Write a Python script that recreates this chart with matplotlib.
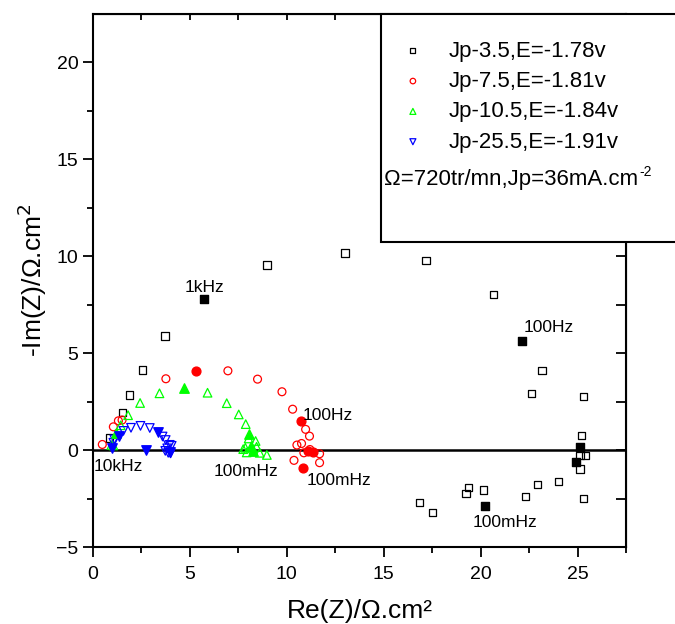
import matplotlib
matplotlib.use("Agg")
import matplotlib.pyplot as plt
from matplotlib.patches import Rectangle

plt.rcParams["font.family"] = ["Liberation Sans", "DejaVu Sans"]

# Jp-3.5, E=-1.78v (black squares)
sq_open_x = [0.84, 1.51, 1.87, 2.54, 3.71, 8.97, 13.0, 17.19, 20.68, 23.16, 22.64, 25.3,
             25.22, 25.41, 25.13, 25.13, 25.3, 24.02, 22.93, 22.3, 20.15, 19.37, 19.24,
             16.85, 17.5]
sq_open_y = [0.63, 1.94, 2.85, 4.14, 5.89, 9.55, 10.17, 9.79, 8.03, 4.12, 2.92, 2.78,
             0.74, -0.29, -0.29, -0.98, -2.49, -1.62, -1.77, -2.4, -2.06, -1.94, -2.23,
             -2.70, -3.23]
sq_full_x = [5.74, 22.12, 25.13, 24.93, 20.25]
sq_full_y = [7.78, 5.63, 0.14, -0.64, -2.89]

# Jp-7.5, E=-1.81v (red circles)
ci_open_x = [0.48, 1.05, 1.31, 1.50, 3.76, 6.96, 8.49, 9.75, 10.3, 10.97, 11.17, 10.52,
             10.76, 10.88, 11.19, 11.69, 10.37, 11.69]
ci_open_y = [0.29, 1.2, 1.51, 1.55, 3.68, 4.09, 3.66, 3.01, 2.11, 1.07, 0.72, 0.26,
             0.34, -0.14, 0.03, -0.19, -0.53, -0.65]
ci_full_x = [5.31, 10.71, 11.1, 11.36, 10.85]
ci_full_y = [4.07, 1.49, -0.05, -0.12, -0.91]

# Jp-10.5, E=-1.84v (green triangles)
tr_open_x = [0.95, 1.05, 1.43, 1.81, 2.43, 3.43, 5.91, 6.9, 7.52, 7.88, 8.03, 8.39,
             7.86, 8.44, 7.93, 8.6, 8.97, 7.75]
tr_open_y = [0.26, 0.24, 1.28, 1.80, 2.43, 2.93, 2.96, 2.42, 1.84, 1.34, 0.60, 0.47,
             0.12, 0.17, -0.12, -0.14, -0.25, 0.05]
tr_full_x = [1.2, 4.69, 8.07, 8.13, 8.27]
tr_full_y = [0.9, 3.19, 0.82, 0.22, -0.03]

# Jp-25.5, E=-1.91v (blue down triangles)
dt_open_x = [1.05, 1.1, 1.57, 1.96, 2.45, 2.93, 3.59, 3.75, 3.96, 4.06, 3.73, 3.83,
             3.88, 4.0]
dt_open_y = [0.38, 0.55, 0.99, 1.15, 1.25, 1.14, 0.7, 0.52, 0.27, 0.22, -0.04, 0.09,
             -0.14, -0.17]
dt_full_x = [1.0, 1.32, 3.34, 2.73, 3.96]
dt_full_y = [0.12, 0.72, 0.92, 0.02, -0.1]

labels = ["Jp-3.5,E=-1.78v", "Jp-7.5,E=-1.81v", "Jp-10.5,E=-1.84v", "Jp-25.5,E=-1.91v"]

# frequency labels: (text, x, y)
freq_notes = [
    ("1kHz", 4.74, 8.4),
    ("100Hz", 22.23, 6.34),
    ("100mHz", 19.6, -3.76),
    ("100Hz", 10.83, 1.8),
    ("100mHz", 11.04, -1.55),
    ("100mHz", 6.24, -1.13),
    ("10kHz", 0.05, -0.87),
]

fig = plt.figure(figsize=(6.75, 6.24), dpi=100)
ax = fig.add_axes([93 / 675, 1 - 547 / 624, 533 / 675, 533 / 624])

ax.axhline(0, color="black", lw=1.8, zorder=1)

series = [
    (sq_open_x, sq_open_y, sq_full_x, sq_full_y, "s", "black", 28, 34),
    (ci_open_x, ci_open_y, ci_full_x, ci_full_y, "o", "red", 32, 40),
    (tr_open_x, tr_open_y, tr_full_x, tr_full_y, "^", "#00ff00", 38, 46),
    (dt_open_x, dt_open_y, dt_full_x, dt_full_y, "v", "#0000ff", 38, 46),
]
handles = []
for (ox, oy, fx, fy, mk, col, s_open, s_full), lab in zip(series, labels):
    h = ax.scatter(ox, oy, marker=mk, s=s_open, facecolors="none", edgecolors=col,
                   linewidths=0.9, zorder=3, label=lab)
    ax.scatter(fx, fy, marker=mk, s=s_full, color=col, zorder=4)
    handles.append(h)

for txt, x, y in freq_notes:
    ax.text(x, y, txt, fontsize=12.5, ha="left", va="center", zorder=5)

ax.set_xlim(0, 27.5)
ax.set_ylim(-5, 22.5)
ax.set_xticks([0, 5, 10, 15, 20, 25])
ax.set_xticks([2.5, 7.5, 12.5, 17.5, 22.5, 27.5], minor=True)
ax.set_yticks([-5, 0, 5, 10, 15, 20])
ax.set_yticks([-2.5, 2.5, 7.5, 12.5, 17.5], minor=True)
ax.tick_params(which="major", direction="out", length=7, width=1.3, labelsize=14,
               top=False, right=False)
ax.tick_params(axis="x", which="major", pad=7)
ax.tick_params(which="minor", direction="out", length=4, width=1.3,
               top=False, right=False)
for sp in ax.spines.values():
    sp.set_linewidth(1.5)

# inward ticks on top and right
top = ax.secondary_xaxis("top")
top.set_xticks([2.5 * i for i in range(12)])
top.set_xticklabels([])
top.tick_params(direction="in", length=4, width=1.3)
right = ax.secondary_yaxis("right")
right.set_yticks([-5 + 2.5 * i for i in range(12)])
right.set_yticklabels([])
right.tick_params(direction="in", length=7, width=1.3)

ax.set_xlabel("Re(Z)/Ω.cm²", fontsize=19, labelpad=11)
ax.set_ylabel("-Im(Z)/Ω.cm$^2$", fontsize=19, labelpad=5)

# legend box
box = Rectangle((381 / 675, 1 - 242 / 624), 0.5, 228 / 624, transform=fig.transFigure,
                facecolor="white", edgecolor="black", lw=1.5, zorder=5)
fig.patches.append(box)
leg = fig.legend(handles=handles, labels=labels, loc="upper left",
                 bbox_to_anchor=(0.587, 0.935), frameon=False, fontsize=16,
                 markerscale=0.7, handlelength=1.5, handletextpad=0.87,
                 borderpad=0, borderaxespad=0, labelspacing=0.42, scatterpoints=1)
leg.set_zorder(6)
fig.text(384 / 675, 1 - 180 / 624, "Ω=720tr/mn,Jp=36mA.cm", fontsize=16,
         ha="left", va="center", zorder=7)
fig.text(639 / 675, 1 - 172 / 624, "-2", fontsize=10,
         ha="left", va="center", zorder=7)

fig.savefig("out.png", dpi=100)
